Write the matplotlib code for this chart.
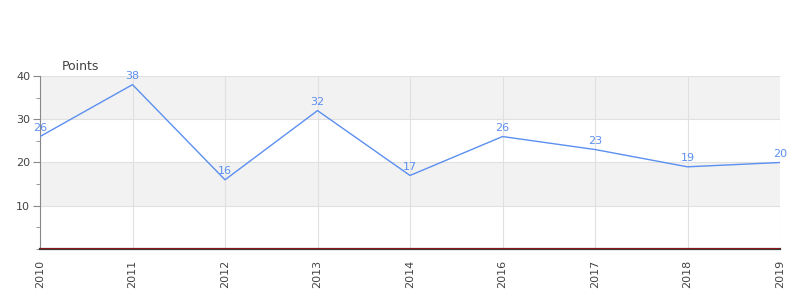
import matplotlib
matplotlib.use("Agg")
import matplotlib.pyplot as plt
from matplotlib.ticker import MultipleLocator

# Data
years = ["2010", "2011", "2012", "2013", "2014", "2016", "2017", "2018", "2019"]
points = [26, 38, 16, 32, 17, 26, 23, 19, 20]

line_color = "#5b8ff0"
text_color = "#444444"

fig = plt.figure(figsize=(8, 3), dpi=100)
ax = fig.add_axes([0.05, 0.17, 0.925, 0.5767])

x = list(range(len(years)))

# alternating horizontal bands
for lo, hi in [(10, 20), (30, 40)]:
    ax.axhspan(lo, hi, color="#f2f2f2", zorder=0, lw=0)

ax.plot(x, points, color=line_color, lw=1, zorder=3)
for xi, v in zip(x, points):
    ax.annotate(str(v), (xi, v), xytext=(0, 2.5), textcoords="offset points",
                ha="center", va="bottom", fontsize=8, color=line_color, zorder=4)

ax.set_xlim(0, len(years) - 1)
ax.set_ylim(0, 40)
ax.set_xticks(x)
ax.set_xticklabels(years, rotation=90, fontsize=8, color=text_color)
ax.set_yticks([10, 20, 30, 40])
ax.yaxis.set_minor_locator(MultipleLocator(5))
ax.tick_params(axis="y", which="major", length=5, color="#888888",
               labelsize=8, labelcolor=text_color, pad=2)
ax.tick_params(axis="y", which="minor", length=3, color="#888888")
ax.tick_params(axis="x", length=0, pad=8)

ax.grid(True, which="major", color="#e0e0e0", lw=0.8, zorder=1)
ax.set_axisbelow(True)

for s in ["top", "right"]:
    ax.spines[s].set_visible(False)
ax.spines["left"].set_color("#888888")
ax.spines["bottom"].set_color("#3a3a3a")
ax.spines["bottom"].set_linewidth(1.6)

# thin dark-red baseline on top of the bottom axis line
ax.axhline(0.15, color="#a01010", lw=0.6, zorder=5)

fig.text(62 / 800, 1 - 66 / 300, "Points", fontsize=9, color=text_color,
         ha="left", va="center")

fig.savefig("out.png", dpi=100)
